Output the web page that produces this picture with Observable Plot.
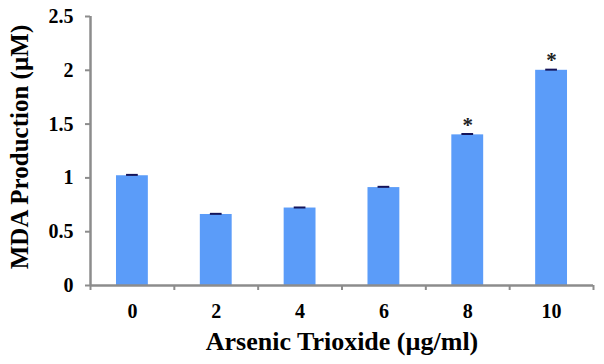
<!DOCTYPE html>
<html>
<head>
<meta charset="utf-8">
<script src="https://cdn.jsdelivr.net/npm/d3@7"></script>
<script src="https://cdn.jsdelivr.net/npm/@observablehq/plot@0.6"></script>
<style>
  html, body { margin: 0; padding: 0; background: #fff; }
  svg { display: block; }
</style>
</head>
<body>
<div id="chart"></div>
<script>
const doses = ["0", "2", "4", "6", "8", "10"];
const mda = [1.02, 0.66, 0.72, 0.91, 1.40, 2.00];
const errs = [0.008, 0.006, 0.005, 0.007, 0.008, 0.006];
const significant = [false, false, false, false, true, true];
const yTicks = [0, 0.5, 1, 1.5, 2, 2.5];

const data = doses.map((d, i) => ({i, dose: d, v: mda[i], e: errs[i], sig: significant[i]}));
const half = 0.19;
const capHalf = 0.07;
const font = "'Liberation Serif', 'Times New Roman', serif";
const axisColor = "#8c8c8c";

const chart = Plot.plot({
  width: 604,
  height: 364,
  marginLeft: 90,
  marginRight: 11,
  marginTop: 16,
  marginBottom: 79,
  style: {fontFamily: font, fontWeight: "bold", fontSize: "20px", color: "#000", background: "#fff", overflow: "visible"},
  x: {type: "linear", domain: [-0.5, doses.length - 0.5], axis: null},
  y: {domain: [0, 2.5], axis: null},
  marks: [
    Plot.rectY(data, {x1: d => d.i - half, x2: d => d.i + half, y1: 0, y2: "v", fill: "#5b9cf9"}),
    Plot.ruleX(data, {x: "i", y1: "v", y2: d => d.v + d.e, stroke: "#14145a", strokeWidth: 1.5}),
    Plot.ruleY(data, {y: d => d.v + d.e, x1: d => d.i - capHalf, x2: d => d.i + capHalf, stroke: "#14145a", strokeWidth: 2}),
    Plot.text(data.filter(d => d.sig), {x: "i", y: "v", text: () => "*", lineAnchor: "bottom", dy: -3, fontSize: 21, fontWeight: "bold", fill: "#222"}),
    // axis lines
    Plot.ruleX([-0.5], {y1: 0, y2: 2.5, stroke: axisColor, strokeWidth: 2.5}),
    Plot.ruleY([0], {x1: -0.5, x2: doses.length - 0.5, stroke: axisColor, strokeWidth: 2.5}),
    Plot.axisY({ticks: yTicks, tickSize: 5, tickFormat: () => "", stroke: axisColor, strokeWidth: 2, label: null}),
    Plot.axisX({ticks: d3.range(-0.5, doses.length, 1), tickSize: 5, tickFormat: () => "", stroke: axisColor, strokeWidth: 2, label: null}),
    // tick labels
    Plot.text(yTicks, {y: d => d, frameAnchor: "left", textAnchor: "end", lineAnchor: "middle", dx: -17, text: d => String(d), fontSize: 20, fontWeight: "bold", fill: "#000"}),
    Plot.text(data, {x: "i", frameAnchor: "bottom", lineAnchor: "middle", textAnchor: "middle", dy: 26, text: "dose", fontSize: 20, fontWeight: "bold", fill: "#000"}),
    Plot.text(["Arsenic Trioxide (µg/ml)"], {frameAnchor: "bottom", dy: 56, lineAnchor: "middle", textAnchor: "middle", text: d => d, fontSize: 26, fontWeight: "bold", fill: "#000"}),
    Plot.text(["MDA Production (µM)"], {frameAnchor: "left", dx: -71, dy: -4, rotate: -90, lineAnchor: "middle", textAnchor: "middle", text: d => d, fontSize: 25, fontWeight: "bold", fill: "#000"})
  ]
});
document.getElementById("chart").appendChild(chart);
</script>
</body>
</html>
